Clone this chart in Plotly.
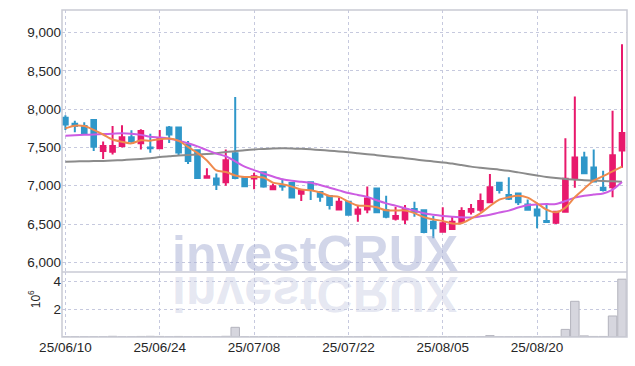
import base64
import plotly.graph_objects as go

# ---------------- data ----------------
dates = [
    "25/06/10", "25/06/11", "25/06/12", "25/06/13", "25/06/16", "25/06/17", "25/06/18", "25/06/19",
    "25/06/20", "25/06/23", "25/06/24", "25/06/25", "25/06/26", "25/06/27", "25/06/30",
    "25/07/01", "25/07/02", "25/07/03", "25/07/04", "25/07/07", "25/07/08", "25/07/09", "25/07/10",
    "25/07/11", "25/07/14", "25/07/15", "25/07/16", "25/07/17", "25/07/18", "25/07/21", "25/07/22",
    "25/07/23", "25/07/24", "25/07/25", "25/07/28", "25/07/29", "25/07/30", "25/07/31",
    "25/08/01", "25/08/04", "25/08/05", "25/08/06", "25/08/07", "25/08/08", "25/08/11", "25/08/12",
    "25/08/13", "25/08/14", "25/08/18", "25/08/19", "25/08/20", "25/08/21", "25/08/22", "25/08/25",
    "25/08/26", "25/08/27", "25/08/28", "25/08/29", "25/09/01", "25/09/02",
]
opens = [7890, 7810, 7780, 7860, 7455, 7445, 7520, 7635, 7555, 7500,
         7490, 7760, 7760, 7540, 7465, 7105, 7095, 7045, 7425, 7110,
         7095, 7175, 6955, 7000, 7035, 6895, 7045, 6920, 6865, 6690,
         6790, 6635, 6690, 6965, 6680, 6570, 6560, 6695, 6680, 6530,
         6400, 6435, 6525, 6660, 6685, 6785, 7040, 6880, 6900, 6755,
         6690, 6540, 6515, 6660, 7090, 7370, 7240, 6975, 6980, 7460]
highs = [7920, 7850, 7830, 7860, 7580, 7780, 7790, 7725, 7740, 7680,
         7730, 7780, 7760, 7585, 7470, 7230, 7160, 7475, 8160, 7115,
         7170, 7180, 7030, 7090, 7050, 6940, 7050, 6925, 6870, 6845,
         6795, 6745, 6990, 6970, 6870, 6725, 6750, 6790, 6685, 6605,
         6720, 6595, 6720, 6760, 6900, 7155, 7045, 7110, 6905, 6820,
         6750, 6750, 6665, 7620, 8165, 7445, 7475, 7195, 7980, 8850]
lows = [7730, 7700, 7670, 7455, 7350, 7410, 7500, 7555, 7475, 7430,
        7485, 7560, 7390, 7285, 7095, 7100, 6945, 7000, 7085, 6990,
        6955, 6975, 6950, 6935, 6840, 6800, 6815, 6790, 6690, 6690,
        6610, 6530, 6640, 6650, 6575, 6545, 6500, 6595, 6380, 6315,
        6395, 6430, 6520, 6625, 6660, 6780, 6900, 6815, 6750, 6680,
        6445, 6520, 6500, 6655, 6975, 7155, 7050, 6925, 6850, 7235]
closes = [7800, 7780, 7690, 7510, 7520, 7520, 7635, 7585, 7715, 7490,
          7620, 7670, 7435, 7325, 7100, 7125, 7015, 7335, 7100, 6995,
          7125, 6990, 6995, 6990, 6845, 6935, 6945, 6855, 6750, 6790,
          6620, 6690, 6835, 6655, 6595, 6605, 6695, 6660, 6395, 6445,
          6510, 6530, 6670, 6695, 6800, 6980, 6945, 6830, 6785, 6685,
          6610, 6525, 6660, 7090, 7370, 7165, 7055, 6945, 7400, 7690]
ma5 = [7750, 7785, 7780, 7730, 7670, 7604, 7575, 7554, 7595, 7589,
       7609, 7616, 7586, 7508, 7430, 7331, 7200, 7180, 7135, 7114,
       7114, 7109, 7041, 7019, 6989, 6951, 6942, 6914, 6866, 6855,
       6792, 6741, 6737, 6718, 6679, 6676, 6677, 6642, 6590, 6560,
       6541, 6508, 6510, 6570, 6641, 6735, 6818, 6850, 6868, 6845,
       6771, 6687, 6653, 6714, 6851, 6962, 7068, 7125, 7187, 7251]
ma20 = [7655, 7660, 7665, 7670, 7675, 7680, 7685, 7680, 7665, 7640,
        7630, 7615, 7590, 7555, 7515, 7465, 7420, 7385, 7320, 7250,
        7205, 7160, 7120, 7085, 7065, 7053, 7040, 7010, 6975, 6940,
        6905, 6880, 6855, 6810, 6770, 6740, 6705, 6675, 6640, 6620,
        6605, 6595, 6587, 6585, 6600, 6620, 6650, 6675, 6715, 6745,
        6755, 6760, 6762, 6800, 6845, 6870, 6885, 6900, 6950, 7050]
ma60 = [7315, 7318, 7320, 7322, 7325, 7330, 7335, 7342, 7350, 7360,
        7375, 7385, 7395, 7402, 7408, 7415, 7425, 7440, 7452, 7465,
        7475, 7482, 7487, 7489, 7488, 7483, 7476, 7468, 7458, 7448,
        7438, 7425, 7412, 7400, 7385, 7372, 7360, 7345, 7330, 7318,
        7305, 7290, 7270, 7250, 7235, 7222, 7210, 7195, 7175, 7155,
        7135, 7115, 7100, 7088, 7080, 7072, 7068, 7063, 7058, 7053]
volume_m = [0.01, 0.01, 0.01, 0.01, 0.01, 0.05, 0.01, 0.01, 0.04, 0.05,
            0.04, 0.01, 0.04, 0.01, 0.01, 0.01, 0.01, 0.05, 0.70, 0.01,
            0.01, 0.01, 0.01, 0.01, 0.01, 0.01, 0.01, 0.01, 0.01, 0.01,
            0.01, 0.01, 0.04, 0.01, 0.01, 0.01, 0.01, 0.01, 0.01, 0.01,
            0.01, 0.01, 0.01, 0.01, 0.01, 0.10, 0.01, 0.01, 0.01, 0.01,
            0.01, 0.01, 0.01, 0.55, 2.58, 0.08, 0.04, 0.04, 1.52, 4.18]
price_ticks = [6000, 6500, 7000, 7500, 8000, 8500, 9000]
volume_ticks = [2, 4]
date_ticks = dates[::10]

# ---------------- style ----------------
UP = "#e8196c"
DOWN = "#2f97c9"
GRID = "#c6c9de"
FRAME = "#c9cad4"
FONT = "Liberation Sans, Arial, sans-serif"
TXT = "#262626"
VOL_DOMAIN = 0.1988

fig = go.Figure()

fig.add_trace(go.Bar(
    x=dates, y=volume_m, yaxis="y2", width=0.9,
    marker=dict(color="rgba(214,214,222,1)", line=dict(color="#b3b3bd", width=1)),
    hoverinfo="skip", showlegend=False,
))

fig.add_trace(go.Candlestick(
    x=dates, open=opens, high=highs, low=lows, close=closes,
    increasing=dict(line=dict(color=UP, width=2), fillcolor=UP),
    decreasing=dict(line=dict(color=DOWN, width=2), fillcolor=DOWN),
    showlegend=False,
))

for vals, col in ((ma60, "#8b8b8b"), (ma20, "#cc5ce2"), (ma5, "#ef8a4e")):
    fig.add_trace(go.Scatter(
        x=dates, y=vals, mode="lines",
        line=dict(color=col, width=2, shape="spline", smoothing=0.8),
        showlegend=False, hoverinfo="skip",
    ))

fig.update_layout(
    width=635, height=366,
    margin=dict(l=62, r=8, t=10, b=29, autoexpand=False),
    paper_bgcolor="white", plot_bgcolor="white",
    font=dict(family=FONT, size=13.5, color=TXT),
    showlegend=False,
    xaxis=dict(
        type="category", range=[-0.36, 59.53], anchor="y2", automargin=False,
        tickmode="array", tickvals=date_ticks, ticktext=date_ticks,
        showgrid=True, gridcolor=GRID, griddash="dot", gridwidth=1,
        ticks="", showline=False, zeroline=False,
        rangeslider=dict(visible=False), tickangle=0,
    ),
    yaxis=dict(
        domain=[VOL_DOMAIN, 1], range=[5873, 9297], automargin=False,
        tickmode="array", tickvals=price_ticks, tickformat=",",
        showgrid=True, gridcolor=GRID, griddash="dot", gridwidth=1,
        ticks="", zeroline=False, showline=False,
    ),
    yaxis2=dict(
        domain=[0, VOL_DOMAIN], range=[0, 4.70], automargin=False,
        tickmode="array", tickvals=volume_ticks,
        showgrid=True, gridcolor=GRID, griddash="dot", gridwidth=1,
        ticks="", zeroline=False, showline=False,
    ),
    shapes=[
        dict(type="rect", xref="paper", yref="paper", x0=0, x1=1, y0=0, y1=1,
             line=dict(color=FRAME, width=1.5), layer="above"),
        dict(type="line", xref="paper", yref="paper", x0=0, x1=1, y0=VOL_DOMAIN, y1=VOL_DOMAIN,
             line=dict(color=FRAME, width=1.5), layer="above"),
    ],
)

# volume unit label
fig.add_annotation(
    text="10<sup>6</sup>", xref="paper", yref="paper", x=-0.048, y=0.115,
    xanchor="center", yanchor="middle", textangle=-90, showarrow=False,
    font=dict(family=FONT, size=12, color=TXT),
)

# watermark
fig.add_annotation(
    text="investCRUX", xref="paper", yref="paper", x=0.448, y=0.255,
    xanchor="center", yanchor="middle", showarrow=False,
    font=dict(family=FONT, size=50, color="rgba(165,174,212,0.5)", weight=700),
)

svg = (
    '<svg xmlns="http://www.w3.org/2000/svg" width="300" height="50" viewBox="0 0 300 50">'
    '<g transform="translate(0,50) scale(1,-1)">'
    '<text x="150" y="48" text-anchor="middle" font-family="Liberation Sans, Arial, sans-serif" '
    'font-weight="bold" font-size="50" fill="rgb(190,195,222)" fill-opacity="0.4">investCRUX</text>'
    '</g></svg>'
)
fig.add_layout_image(
    source="data:image/svg+xml;base64," + base64.b64encode(svg.encode()).decode(),
    xref="paper", yref="paper", x=0.448 - 150 / 565, y=(337 - 275) / 327,
    sizex=300 / 565, sizey=50 / 327, xanchor="left", yanchor="top",
    sizing="stretch", layer="below",
)

fig.write_html(
    "out.html",
    config={"displayModeBar": False},
    post_script="document.body.style.margin='0px';",
)
